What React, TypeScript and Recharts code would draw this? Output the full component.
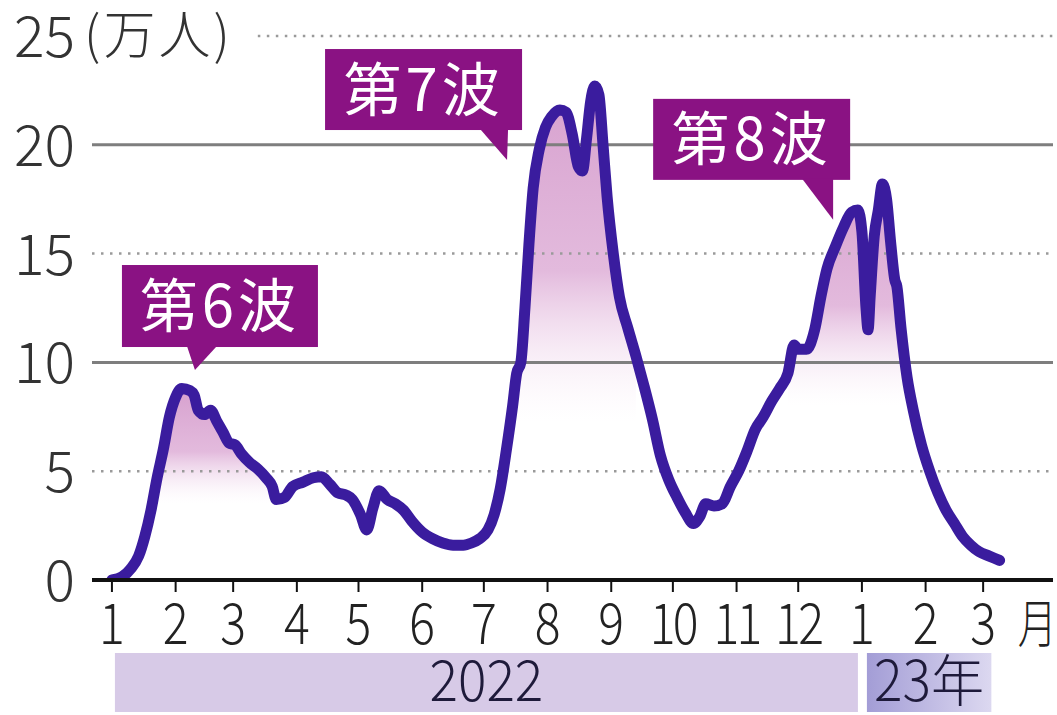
import React from 'react';
import {
  ComposedChart,
  Line,
  Area,
  XAxis,
  YAxis,
  ReferenceLine,
  ReferenceArea,
  ReferenceDot,
} from 'recharts';

// Day index counted from 2022-01-01
const DAYS = [
  0, 5, 9, 13, 16, 19, 22, 25, 28, 31, 34, 38, 40, 42, 45, 48, 51, 54, 57, 60, 63, 67, 71, 75, 78, 80,
  84, 88, 93, 98, 102, 106, 110, 114, 117, 121, 124, 127, 130, 134, 138, 142, 146, 151, 156, 161, 166,
  171, 175, 179, 183, 186, 189, 192, 195, 197, 199, 201, 203, 205, 208, 211, 214, 218, 221, 224, 227,
  229, 231, 233, 235, 237, 239, 241, 244, 247, 251, 255, 259, 263, 267, 271, 275, 279, 283, 286, 289,
  293, 297, 301, 305, 309, 313, 317, 321, 325, 329, 332, 334, 338, 342, 345, 348, 352, 356, 360, 363,
  365, 367, 368, 369, 371, 373, 375, 377, 379, 381, 382, 384, 387, 390, 394, 398, 402, 406, 410, 414,
  418, 422, 427, 432,
];

// Daily new cases (万人)
const CASES = [
  0.0, 0.15, 0.5, 1.1, 2.0, 3.2, 4.7, 6.0, 7.5, 8.4, 8.8, 8.7, 8.5, 7.8, 7.6, 7.8, 7.3, 6.8, 6.3, 6.2,
  5.8, 5.4, 5.1, 4.7, 4.3, 3.7, 3.8, 4.3, 4.5, 4.7, 4.75, 4.4, 4.0, 3.9, 3.7, 3.0, 2.3, 3.3, 4.1, 3.7,
  3.5, 3.2, 2.7, 2.2, 1.9, 1.7, 1.6, 1.6, 1.7, 1.9, 2.3, 3.0, 4.2, 6.0, 8.0, 9.5, 10.0, 12.5, 15.5,
  18.0, 19.8, 20.8, 21.3, 21.6, 21.5, 20.5, 19.0, 18.8, 20.3, 22.0, 22.7, 22.3, 20.0, 17.6, 15.0, 13.0,
  11.6, 10.3, 8.9, 7.4, 5.7, 4.6, 3.8, 3.1, 2.6, 2.9, 3.5, 3.4, 3.5, 4.3, 5.0, 5.9, 6.9, 7.5, 8.2, 8.8,
  9.5, 10.8, 10.6, 10.6, 11.5, 13.0, 14.3, 15.3, 16.2, 16.9, 17.0, 16.0, 12.5, 11.5, 13.0, 15.8, 17.0,
  18.2, 17.5, 15.5, 13.8, 13.5, 11.6, 9.3, 7.8, 6.2, 5.0, 4.0, 3.2, 2.6, 2.0, 1.6, 1.3, 1.1, 0.9,
];

// Shaded peak ranges (day index) for each wave
const WAVE_RANGES: [number, number][] = [
  [20, 84],
  [192, 258],
  [326, 392],
];

// Month start ticks and labels
const MONTH_TICKS = [0, 31, 59, 90, 120, 151, 181, 212, 243, 273, 304, 334, 365, 396, 424];
const MONTH_LABELS = ['1', '2', '3', '4', '5', '6', '7', '8', '9', '10', '11', '12', '1', '2', '3'];

const Y_TICKS = [0, 5, 10, 15, 20, 25];

// Year bands under the axis
const YEAR_BANDS = [
  { label: '2022', from: 0, to: 365 },
  { label: '23年', from: 365, to: 428 },
];

// Wave callouts: label and the point the pointer tip marks
const WAVE_LABELS = ['第6波', '第7波', '第8波'];
const WAVE_TIP_DAY = [40.4, 192.3, 351];
const WAVE_TIP_VALUE = [9.65, 19.3, 16.55];

// ---------- style ----------
const FONT = "'Noto Sans CJK JP', 'Noto Sans', sans-serif";
const LINE_COLOR = '#3A1C9E';
const CALLOUT_COLOR = '#8A1283';
const CALLOUT_GEOM = [
  { bx: -73, by: -105, w: 196, h: 82, p1: -8, p2: 22 },
  { bx: -182, by: -111, w: 197, h: 81, p1: -27, p2: 1 },
  { bx: -180, by: -121, w: 197, h: 81, p1: -31, p2: 0 },
];
const FADE_STOPS = [0.6, 0.68, 0.56];

const data = DAYS.map((d, i) => {
  const row: Record<string, number | null> = { day: d, cases: CASES[i] };
  WAVE_RANGES.forEach(([a, b], k) => {
    row['f' + k] = d >= a && d <= b ? CASES[i] : null;
  });
  return row;
});

const YTick = (props: any) => {
  const { y, payload } = props;
  const v = payload.value;
  return (
    <g>
      <text
        x={75}
        y={y + 21}
        textAnchor="end"
        fontFamily={FONT}
        fontWeight={300}
        fontSize={57}
        fill="#333"
      >
        {String(v)}
      </text>
      {v === 25 && (
        <text x={84} y={y + 18} textAnchor="start" fontFamily={FONT} fontWeight={300} fontSize={52} fill="#333" letterSpacing={3}>
          (万人)
        </text>
      )}
    </g>
  );
};

const XTick = (props: any) => {
  const { x, payload } = props;
  const idx = MONTH_TICKS.indexOf(payload.value);
  const label = MONTH_LABELS[idx] ?? '';
  return (
    <g>
      <text
        transform={`translate(${x},644) scale(0.86,1)`}
        textAnchor="middle"
        fontFamily={FONT}
        fontWeight={300}
        fontSize={56}
        fill="#222"
        letterSpacing={label.length > 1 ? -3 : 0}
      >
        {label}
      </text>
      {idx === MONTH_TICKS.length - 1 && (
        <text transform={`translate(${x + 54},643) scale(0.75,1)`} textAnchor="middle" fontFamily={FONT} fontWeight={300} fontSize={52} fill="#222">
          月
        </text>
      )}
    </g>
  );
};

const renderBand = (p: any, band: { label: string }, i: number) => {
  const x = p.x + (i === 0 ? 3 : 5);
  const w = p.width - (i === 0 ? 7 : 5);
  return (
    <g>
      {i === 1 && (
        <defs>
          <linearGradient id="band23" x1="0" y1="0" x2="1" y2="0">
            <stop offset="0%" stopColor="#A39DD6" />
            <stop offset="100%" stopColor="#DCD8F0" />
          </linearGradient>
        </defs>
      )}
      <rect x={x} y={653} width={w} height={59} fill={i === 0 ? '#D7CAE7' : 'url(#band23)'} />
      <text
        transform={`translate(${x + w / 2},701) scale(0.95,1)`}
        textAnchor="middle"
        fontFamily={FONT}
        fontWeight={300}
        fontSize={56}
        fill="#1E1A3A"
      >
        {band.label}
      </text>
    </g>
  );
};

const renderCallout = (p: any, i: number) => {
  const { cx, cy } = p;
  const g = CALLOUT_GEOM[i];
  const bottom = cy + g.by + g.h;
  return (
    <g>
      <rect x={cx + g.bx} y={cy + g.by} width={g.w} height={g.h} fill={CALLOUT_COLOR} />
      <polygon
        points={`${cx + g.p1},${bottom - 1} ${cx + g.p2},${bottom - 1} ${cx},${cy}`}
        fill={CALLOUT_COLOR}
      />
      <text
        x={cx + g.bx + g.w / 2}
        y={cy + g.by + g.h / 2 + 21}
        textAnchor="middle"
        fontFamily={FONT}
        fontSize={58}
        fill="#FFFFFF"
        letterSpacing={4}
      >
        {WAVE_LABELS[i]}
      </text>
    </g>
  );
};

export default function App() {
  return (
    <div style={{ position: 'absolute', left: 0, top: 0, width: 1057, height: 715, background: '#fff' }}>
      <ComposedChart
        width={1057}
        height={715}
        data={data}
        margin={{ top: 36, right: 4, bottom: 0, left: 0 }}
      >
        <defs>
          {FADE_STOPS.map((f, k) => (
            <linearGradient key={k} id={`fade${k}`} x1="0" y1="0" x2="0" y2="1">
              <stop offset="0%" stopColor="#BC62AE" stopOpacity={1} />
              <stop offset={`${f * 55}%`} stopColor="#C878BC" stopOpacity={0.85} />
              <stop offset={`${f * 100}%`} stopColor="#F3DDF0" stopOpacity={0} />
              <stop offset="100%" stopColor="#FFFFFF" stopOpacity={0} />
            </linearGradient>
          ))}
        </defs>
        <XAxis
          type="number"
          dataKey="day"
          domain={[-9.7, 458]}
          allowDataOverflow
          ticks={MONTH_TICKS}
          interval={0}
          height={135}
          tick={<XTick />}
          tickSize={12}
          tickLine={{ stroke: '#111', strokeWidth: 2 }}
          axisLine={{ stroke: '#111', strokeWidth: 4 }}
        />
        <YAxis
          type="number"
          domain={[0, 25]}
          allowDataOverflow
          ticks={Y_TICKS}
          interval={0}
          width={92}
          axisLine={false}
          tickLine={false}
          tick={<YTick />}
        />
        <ReferenceLine y={5} stroke="#9A9A9A" strokeWidth={2.5} strokeDasharray="2.5 6.5" />
        <ReferenceLine y={10} stroke="#7E7E7E" strokeWidth={3} />
        <ReferenceLine y={15} stroke="#9A9A9A" strokeWidth={2.5} strokeDasharray="2.5 6.5" />
        <ReferenceLine y={20} stroke="#7E7E7E" strokeWidth={3} />
        <ReferenceLine
          segment={[
            { x: 71, y: 25 },
            { x: 458, y: 25 },
          ]}
          stroke="#9A9A9A"
          strokeWidth={2.5}
          strokeDasharray="2.5 6.5"
        />
        {YEAR_BANDS.map((b, i) => (
          <ReferenceArea
            key={b.label}
            x1={b.from}
            x2={b.to}
            shape={(p: any) => renderBand(p, b, i)}
          />
        ))}
        {WAVE_RANGES.map((_, k) => (
          <Area
            key={k}
            type="monotone"
            dataKey={'f' + k}
            stroke="none"
            fill={`url(#fade${k})`}
            isAnimationActive={false}
            dot={false}
            activeDot={false}
          />
        ))}
        <Line
          type="monotone"
          dataKey="cases"
          stroke={LINE_COLOR}
          strokeWidth={11}
          strokeLinejoin="round"
          strokeLinecap="round"
          dot={false}
          activeDot={false}
          isAnimationActive={false}
        />
        {WAVE_LABELS.map((l, i) => (
          <ReferenceDot
            key={l}
            x={WAVE_TIP_DAY[i]}
            y={WAVE_TIP_VALUE[i]}
            r={0}
            shape={(p: any) => renderCallout(p, i)}
          />
        ))}
      </ComposedChart>
    </div>
  );
}
